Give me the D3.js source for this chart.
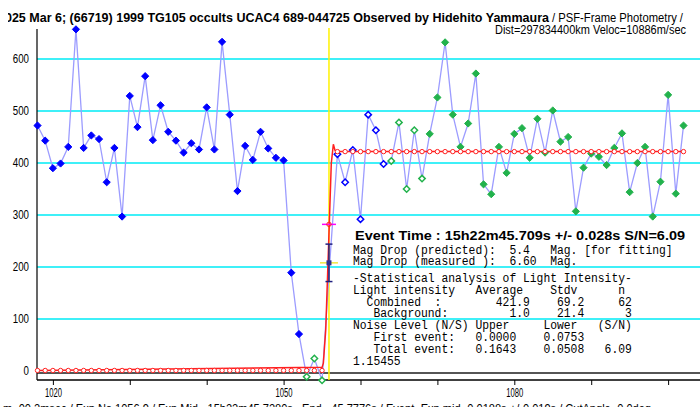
<!DOCTYPE html>
<html>
<head>
<meta charset="utf-8">
<script src="https://cdn.jsdelivr.net/npm/d3@7"></script>
<style>
  body { margin: 0; background: #fff; overflow: hidden; }
  svg { display: block; }
  .mono { font-family: "Liberation Mono", "DejaVu Sans Mono", monospace; font-size: 12px; }
  .sans { font-family: "Liberation Sans", Arial, sans-serif; }
</style>
</head>
<body>
<svg id="chart" width="700" height="407"></svg>
<script>
// ─── Data ───────────────────────────────────────────────────────────────────
const firstFrame = 1018;
const intensity = [
  472, 443, 390, 399, 431, 657, 429, 453, 446, 363,   // 1018-1027
  429, 297, 529, 469, 567, 444, 511, 460, 443, 420,   // 1028-1037
  438, 426, 507, 426, 633, 493, 346, 433, 406, 460,   // 1038-1047
  428, 410, 405, 189, 71, -11, 24, -18, 208, 417,     // 1048-1057
  363, 425, 292, 493, 463, 398, 404, 478, 350, 463,   // 1058-1067
  370, 456, 526, 632, 493, 431, 476, 572, 359, 340,   // 1068-1077
  431, 381, 456, 467, 410, 485, 420, 501, 441, 450,   // 1078-1087
  307, 391, 418, 412, 396, 429, 457, 344, 400, 431,   // 1088-1097
  297, 364, 531, 341, 472                              // 1098-1102
];
const frames = intensity.map((_, i) => firstFrame + i);

// frame ranges for the marker styles
const preEvent = [1018, 1052];     // filled blue
const background = [1053, 1055];   // open green
const earlyPost = [1057, 1063];    // open blue
const openPost = [1064, 1068];     // open green
const latePost = [1069, 1102];     // filled green

// fitted model (red)
const fitX = [1018, 1055, 1055.17, 1055.48, 1055.94, 1056.2, 1056.47, 1056.69, 1057, 1102];
const fitY = [1.0, 7, 15, 79, 282, 399, 436, 424, 421.9, 421.9];
const fitFramesLow = [1018, 1055];
const fitFramesHigh = [1057, 1102];
const bgLevel = 1.0;
const fullLevel = 421.9;

// event
const eventTime = 1055.9;
const eventHalf = 282;
const dropPoint = 208;
const dropErr = [172, 244];

const yTicks = [0, 100, 200, 300, 400, 500, 600];
const xTicks = [1020, 1030, 1040, 1050, 1060, 1070, 1080, 1090, 1100];
const xLabels = [1020, 1050, 1080];

const titleBold = "2025 Mar 6; (66719) 1999 TG105 occults UCAC4 689-044725 Observed by Hidehito Yammaura";
const titleRight = "/ PSF-Frame Photometry /";
const titleRight2 = "Dist=297834400km Veloc=10886m/sec";
const footer = "m=00.2msec / Exp No 1056.9 / Exp Mid= 15h22m45.7280s , End= 45.7776s / Event=Exp mid -0.0188s +/-0.019s / CutAngle=0.0deg";

const eventLine = "Event Time : 15h22m45.709s  +/- 0.028s  S/N=6.09";
const statLines = [
  "Mag Drop (predicted):  5.4   Mag. [for fitting]",
  "Mag Drop (measured ):  6.60  Mag.",
  "-Statistical analysis of Light Intensity-",
  "Light intensity   Average    Stdv      n",
  "  Combined  :        421.9    69.2     62",
  "   Background:         1.0    21.4      3",
  "Noise Level (N/S) Upper     Lower   (S/N)",
  "   First event:   0.0000    0.0753",
  "   Total event:   0.1643    0.0508   6.09",
  "1.15455"
];

// ─── Layout ─────────────────────────────────────────────────────────────────
const svg = d3.select('#chart');
const plotLeft = 37, plotTop = 29, plotBottom = 380, plotRight = 700;

const x = d3.scaleLinear().domain([1018, 1102]).range([37.5, 683.5]);
const y = d3.scaleLinear().domain([0, 600]).range([371, 59]);

// grid
svg.append('g')
  .selectAll('line')
  .data(yTicks)
  .join('line')
  .attr('x1', plotLeft).attr('x2', plotRight)
  .attr('y1', d => y(d)).attr('y2', d => y(d))
  .attr('stroke', d => d === 0 ? '#555' : '#3ff0f8')
  .attr('stroke-width', 2)
  .attr('transform', d => d === 0 ? 'translate(0,2)' : null);

// left axis
const yAxis = svg.append('g')
  .attr('transform', `translate(${plotLeft},0)`)
  .call(d3.axisLeft(y).tickValues(yTicks).tickSize(0).tickPadding(8));
yAxis.select('.domain').remove();
yAxis.selectAll('text')
  .attr('font-family', 'Liberation Sans, Arial, sans-serif')
  .attr('font-size', 12)
  .attr('fill', '#000')
  .attr('textLength', d => String(d).length * 5.4)
  .attr('lengthAdjust', 'spacingAndGlyphs');
svg.append('line')
  .attr('x1', plotLeft).attr('x2', plotLeft).attr('y1', plotTop).attr('y2', plotBottom)
  .attr('stroke', '#000').attr('stroke-width', 1.2);

// bottom axis
const xAxis = svg.append('g')
  .attr('transform', `translate(0,${plotBottom})`)
  .call(d3.axisBottom(x).tickValues(xTicks).tickSize(5).tickPadding(3)
    .tickFormat(d => xLabels.includes(d) ? d : ''));
xAxis.select('.domain').remove();
xAxis.selectAll('line').attr('stroke', '#000');
xAxis.selectAll('text')
  .attr('font-family', 'Liberation Sans, Arial, sans-serif')
  .attr('font-size', 12)
  .attr('fill', '#000')
  .attr('textLength', d => xLabels.includes(d) ? 17 : null)
  .attr('lengthAdjust', 'spacingAndGlyphs');
svg.append('line')
  .attr('x1', plotLeft).attr('x2', plotRight).attr('y1', plotBottom).attr('y2', plotBottom)
  .attr('stroke', '#000').attr('stroke-width', 1.5);

// event time marker
svg.append('line')
  .attr('x1', x(eventTime)).attr('x2', x(eventTime))
  .attr('y1', 28).attr('y2', plotBottom)
  .attr('stroke', '#fff200').attr('stroke-width', 1.5);

// observed light curve
const pts = frames.map((f, i) => ({ f, v: intensity[i] }));
svg.append('path')
  .datum(pts)
  .attr('fill', 'none')
  .attr('stroke', '#9c9cff')
  .attr('stroke-width', 1.3)
  .attr('d', d3.line().x(d => x(d.f)).y(d => y(d.v)));

// fitted model
svg.append('path')
  .datum(fitX.map((f, i) => ({ f, v: fitY[i] })))
  .attr('fill', 'none')
  .attr('stroke', '#ff2020')
  .attr('stroke-width', 1.5)
  .attr('d', d3.line().x(d => x(d.f)).y(d => y(d.v)));

const inRange = (f, r) => f >= r[0] && f <= r[1];
const fitPts = frames
  .filter(f => inRange(f, fitFramesLow) || inRange(f, fitFramesHigh))
  .map(f => ({ f, v: f <= fitFramesLow[1] ? bgLevel : fullLevel }));

const diamond = r => `M0,${-r}L${r},0L0,${r}L${-r},0Z`;

function drawMarkers(range, color, filled) {
  svg.append('g')
    .selectAll('path')
    .data(pts.filter(d => inRange(d.f, range)))
    .join('path')
    .attr('transform', d => `translate(${x(d.f)},${y(d.v)})`)
    .attr('d', diamond(filled ? 3.6 : 3.2))
    .attr('fill', filled ? color : '#fff')
    .attr('stroke', color)
    .attr('stroke-width', filled ? 1 : 1.5);
}

drawMarkers(preEvent, '#0000ff', true);
drawMarkers(background, '#22b24c', false);
drawMarkers(earlyPost, '#0000ff', false);
drawMarkers(openPost, '#22b24c', false);
drawMarkers(latePost, '#22b24c', true);

// red fit circles
svg.append('g')
  .selectAll('circle')
  .data(fitPts)
  .join('circle')
  .attr('cx', d => x(d.f)).attr('cy', d => y(d.v))
  .attr('r', 2.2)
  .attr('fill', '#fff')
  .attr('stroke', '#ff2020')
  .attr('stroke-width', 1);

// event markers: half-level cross, measured point with error bar
const ex = x(eventTime);
svg.append('line')
  .attr('x1', ex - 7).attr('x2', ex + 7).attr('y1', y(eventHalf)).attr('y2', y(eventHalf))
  .attr('stroke', '#ff00ff').attr('stroke-width', 1.5);
svg.append('circle')
  .attr('cx', ex).attr('cy', y(eventHalf)).attr('r', 2.2)
  .attr('fill', 'none').attr('stroke', '#ff2020');
svg.append('line')
  .attr('x1', ex).attr('x2', ex).attr('y1', y(dropErr[0])).attr('y2', y(dropErr[1]))
  .attr('stroke', '#202080').attr('stroke-width', 1.5);
dropErr.forEach(v => {
  svg.append('line')
    .attr('x1', ex - 3.5).attr('x2', ex + 3.5).attr('y1', y(v)).attr('y2', y(v))
    .attr('stroke', '#202080').attr('stroke-width', 1.5);
});
svg.append('line')
  .attr('x1', ex - 9).attr('x2', ex + 9).attr('y1', y(dropPoint)).attr('y2', y(dropPoint))
  .attr('stroke', '#f0e840').attr('stroke-width', 1.5);
svg.append('rect')
  .attr('x', ex - 2.5).attr('y', y(dropPoint) - 2.5).attr('width', 5).attr('height', 5)
  .attr('fill', '#303090');

// ─── Texts ──────────────────────────────────────────────────────────────────
svg.append('clipPath').attr('id', 'titleClip')
  .append('rect').attr('x', 8).attr('y', 0).attr('width', 700).attr('height', 40);

svg.append('text')
  .attr('class', 'sans')
  .attr('clip-path', 'url(#titleClip)')
  .attr('x', -2).attr('y', 22)
  .attr('font-size', 13).attr('font-weight', 'bold')
  .attr('textLength', 551).attr('lengthAdjust', 'spacingAndGlyphs')
  .text(titleBold);
svg.append('text')
  .attr('class', 'sans')
  .attr('x', 552).attr('y', 22)
  .attr('font-size', 12)
  .attr('textLength', 131).attr('lengthAdjust', 'spacingAndGlyphs')
  .text(titleRight);
svg.append('text')
  .attr('class', 'sans')
  .attr('x', 495).attr('y', 34)
  .attr('font-size', 12)
  .attr('textLength', 191).attr('lengthAdjust', 'spacingAndGlyphs')
  .text(titleRight2);

svg.append('text')
  .attr('class', 'sans')
  .attr('x', 3).attr('y', 413)
  .attr('font-size', 12)
  .attr('textLength', 648).attr('lengthAdjust', 'spacingAndGlyphs')
  .text(footer);

svg.append('text')
  .attr('class', 'sans')
  .attr('x', 355).attr('y', 240)
  .attr('font-size', 13).attr('font-weight', 'bold')
  .attr('textLength', 330).attr('lengthAdjust', 'spacingAndGlyphs')
  .text(eventLine);

const lineY = [254, 265, 282, 293.8, 305.6, 317.4, 329.2, 341, 352.8, 364.6];
const charW = 6.8;
svg.append('g')
  .selectAll('text')
  .data(statLines)
  .join('text')
  .attr('class', 'mono')
  .attr('x', 353)
  .attr('y', (d, i) => lineY[i])
  .attr('textLength', d => d.length * charW)
  .attr('lengthAdjust', 'spacingAndGlyphs')
  .style('white-space', 'pre')
  .text(d => d);
</script>
</body>
</html>
